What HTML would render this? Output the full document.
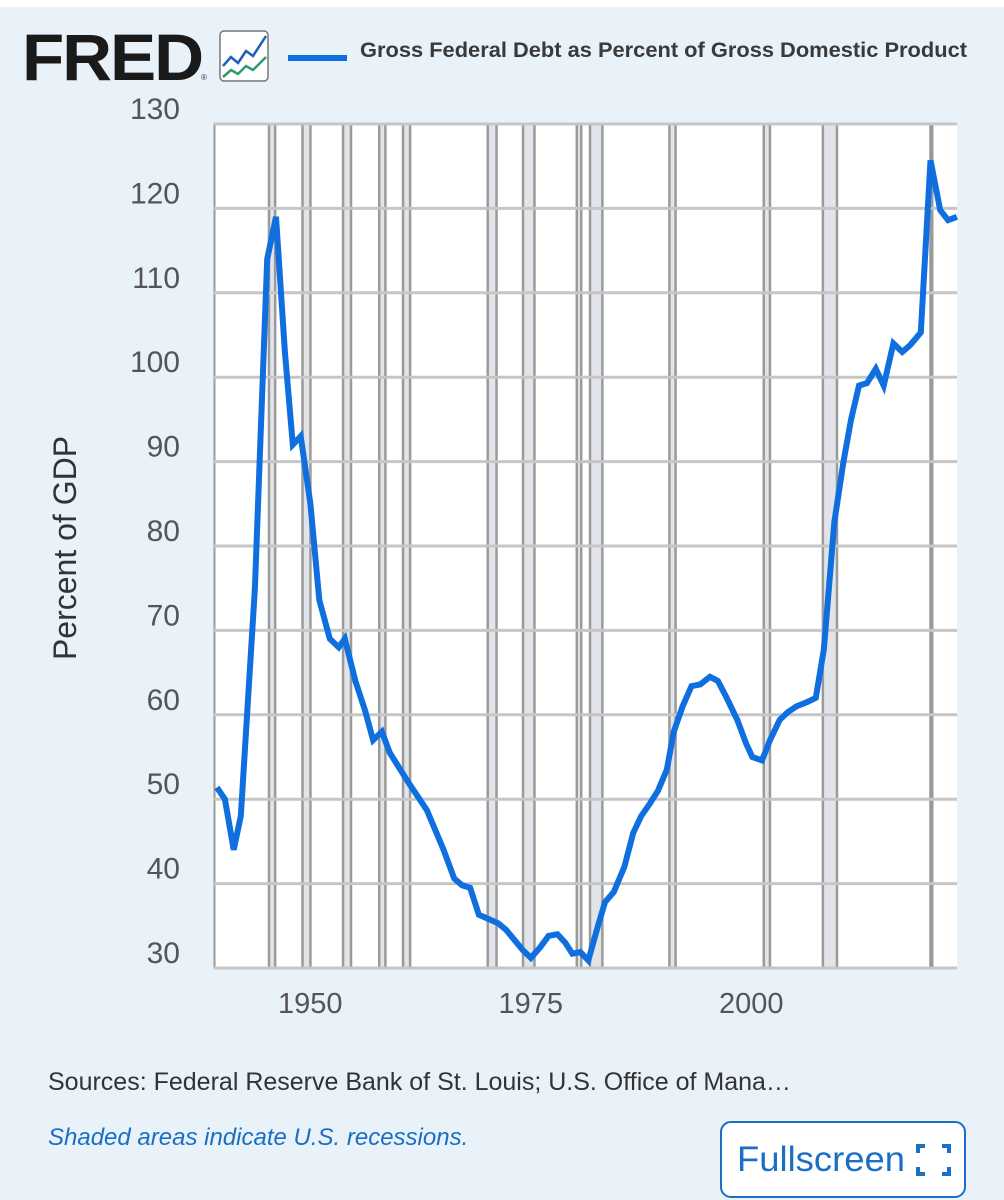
<!DOCTYPE html>
<html><head><meta charset="utf-8"><style>
body{margin:0;width:1004px;height:1200px;overflow:hidden;background:#fff;font-family:"Liberation Sans",sans-serif}
#bg{position:absolute;left:0;top:7px;width:1004px;height:1193px;background:#e9f1f9}
</style></head><body>
<div id="bg"></div>
<svg id="c" width="1004" height="1200" style="position:absolute;left:0;top:0">
<text x="22" y="80" font-size="66" font-weight="bold" fill="#1a1a1a" letter-spacing="-2" textLength="180" lengthAdjust="spacingAndGlyphs">FRED</text>
<text x="201" y="80" font-size="8" fill="#333">®</text>
<g>
<rect x="220" y="31" width="48" height="50" rx="4" fill="#fff" stroke="#777" stroke-width="1.5"/>
<polyline points="223,66 231,57 238,63 246,51 253,56 266,36" fill="none" stroke="#1f5fb8" stroke-width="2.5"/>
<polyline points="223,77 231,70 238,74 246,66 253,70 266,57" fill="none" stroke="#2e9a72" stroke-width="2.5"/>
</g>
<line x1="288" y1="58" x2="347" y2="58" stroke="#0f6fdf" stroke-width="6"/>
<text x="360" y="57" font-size="21" font-weight="bold" fill="#3a3a3a" textLength="607" lengthAdjust="spacingAndGlyphs" style="font-family:'Liberation Sans Narrow','Liberation Sans',sans-serif">Gross Federal Debt as Percent of Gross Domestic Product</text>
<rect x="214" y="124" width="743" height="844" fill="#fff"/>
<g id="rec"></g><g id="grid"></g><g id="ylab"></g><g id="xlab"></g>
<path id="line" fill="none" stroke="#0f6fdf" stroke-width="6" stroke-linejoin="miter"/>
<text transform="translate(76,548) rotate(-90)" text-anchor="middle" font-size="32" fill="#333">Percent of GDP</text>
<text x="48" y="1090" font-size="25" fill="#333">Sources: Federal Reserve Bank of St. Louis; U.S. Office of Mana…</text>
<text x="48" y="1145" font-size="24" font-style="italic" fill="#1a6fc4">Shaded areas indicate U.S. recessions.</text>
<g>
<rect x="721" y="1122" width="244" height="75" rx="10" fill="#fff" stroke="#1a6fc4" stroke-width="2"/>
<text x="737" y="1171" font-size="35" fill="#1a6fc4" textLength="168" lengthAdjust="spacingAndGlyphs">Fullscreen</text>
<path d="M918 1153v-7h7M942 1146h7v7M949 1167v7h-7M925 1174h-7v-7" fill="none" stroke="#1a6fc4" stroke-width="4"/>
</g>
</svg>
<script>
const years=[1939.2,1940.1,1941.1,1941.9,1943.5,1944.9,1945.9,1946.9,1947.8,1948.7,1949.8,1950.8,1952.0,1953.0,1953.7,1954.9,1956.0,1956.9,1957.9,1958.8,1960.9,1963.0,1964.9,1966.1,1967.0,1967.9,1968.9,1971.1,1972.0,1973.9,1974.8,1975.8,1976.8,1977.8,1978.7,1979.5,1980.4,1981.3,1982.4,1983.2,1984.2,1985.4,1986.4,1987.3,1988.3,1989.2,1990.2,1991.0,1992.0,1993.0,1994.0,1995.1,1996.0,1997.0,1998.2,1999.2,1999.9,2001.0,2001.9,2003.0,2003.9,2004.9,2006.1,2007.1,2008.0,2009.2,2010.2,2011.1,2012.0,2012.9,2013.9,2014.8,2015.9,2016.9,2017.8,2019.0,2020.1,2021.2,2022.1,2023.1];
const debtPct=[51.4,50,44,48,75,114,119,103,92,93,85,73.6,69,68,69,64,60.5,57,58,55.5,52,48.7,44,40.6,39.8,39.5,36.3,35.3,34.5,32.1,31.2,32.4,33.8,34,33,31.7,31.9,30.9,35,37.8,39,42,46,48,49.5,51,53.5,58,61,63.4,63.6,64.5,64,62,59.4,56.6,55,54.6,57,59.4,60.3,61,61.5,62,67.7,82.8,89.8,95,99,99.3,101,99,104,103,103.8,105.3,125.7,119.8,118.6,119];
const recStart=[1945.1,1948.9,1953.5,1957.6,1960.3,1969.9,1973.9,1980.0,1981.5,1990.5,2001.2,2007.9,2020.1];
const recEnd=[1945.8,1949.8,1954.4,1958.3,1961.1,1970.9,1975.2,1980.5,1982.9,1991.2,2001.9,2009.5,2020.3];
const yTicks=[30,40,50,60,70,80,90,100,110,120,130];
const xTicks=[1950,1975,2000];
const NS='http://www.w3.org/2000/svg';
const X=y=>224+(y-1940)*8.82, Y=v=>968-(v-30)*8.44;
function mk(t,a,p){const e=document.createElementNS(NS,t);for(const k in a)e.setAttribute(k,a[k]);document.getElementById(p).appendChild(e);return e;}
recStart.forEach((s,i)=>{
 const r=mk('rect',{x:X(s),y:124,width:X(recEnd[i])-X(s),height:844,fill:'#e1e5ea'},'rec');
 
 
 [s,recEnd[i]].forEach(v=>mk('line',{x1:X(v),x2:X(v),y1:124,y2:968,stroke:'#9a9a9a','stroke-width':2.5},'rec'));
});
mk('line',{x1:214.5,x2:214.5,y1:124,y2:968,stroke:'#9a9a9a','stroke-width':2},'rec');
yTicks.forEach(v=>{
 const g=mk('line',{x1:214,x2:957,y1:Y(v),y2:Y(v),stroke:'#c6c6c6','stroke-width':3},'grid');
 
 
 const t=mk('text',{x:180,y:Y(v)-5,'text-anchor':'end','font-size':30,fill:'#555'},'ylab');
 
 
 t.textContent=v;
});
xTicks.forEach(v=>{
 const t=mk('text',{x:X(v)-2,y:1013,'text-anchor':'middle','font-size':29,fill:'#555'},'xlab');
 
 
 t.textContent=v;
});
document.getElementById('line').setAttribute('d',years.map((y,i)=>(i?'L':'M')+X(y).toFixed(1)+' '+Y(debtPct[i]).toFixed(1)).join(''));
</script>
</body></html>
